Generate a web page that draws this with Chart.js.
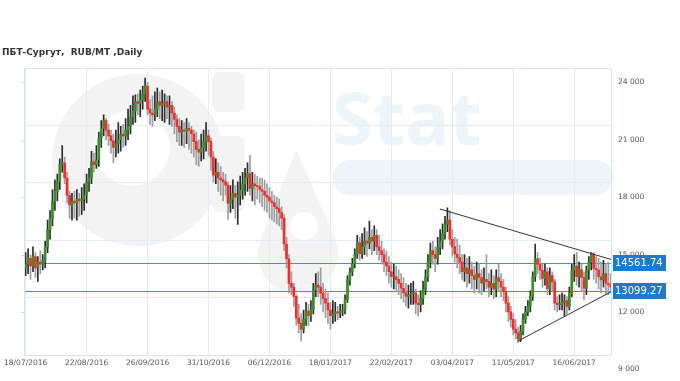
<!DOCTYPE html>
<html>
<head>
<meta charset="utf-8">
<script src="https://cdn.jsdelivr.net/npm/chart.js@4.4.1/dist/chart.umd.min.js"></script>
<style>
  html, body { margin: 0; padding: 0; background: #fff; }
  #wrap { position: relative; width: 680px; height: 381px; }
</style>
</head>
<body>
<div id="wrap"><canvas id="chart"></canvas></div>
<script>
// daily candles, one every trading day; a date label every 25th candle
const tickLabels = ['18/07/2016', '22/08/2016', '26/09/2016', '31/10/2016', '06/12/2016',
                    '18/01/2017', '22/02/2017', '03/04/2017', '11/05/2017', '16/06/2017'];
const labelEvery = 25;

const open = [
  14300,14500,14800,14400,14900,14300,14600,14500,14700,15400,
  16300,16900,17800,18300,18800,19700,19800,19000,18100,17600,
  17800,17700,17900,17800,17900,18100,18800,19000,19850,19700,
  19950,21100,21600,22000,21500,21200,20950,20600,20800,21000,
  21300,21200,21500,21700,22200,22500,23000,22900,23100,23400,
  23800,22600,22400,22300,22600,23000,22800,22900,23000,22700,
  22800,22400,22060,21700,21400,21500,21450,21600,21500,21300,
  20900,20500,20350,20600,20900,21200,20900,20100,19150,19300,
  19000,18900,18800,18630,17690,17900,18200,18000,18100,18350,
  18700,19000,19230,18460,18700,18600,18550,18400,18300,18100,
  18000,17800,17700,17500,17400,17200,16900,15550,14780,13490,
  13300,12810,11690,11400,11100,11610,12040,11800,12120,13160,
  13410,13300,12980,12700,12460,12100,11800,11900,12000,11950,
  12050,12100,12640,13670,14100,14520,15030,15630,15050,15400,
  15700,15600,15900,15700,16000,15400,15200,15000,14600,14400,
  14100,13840,13840,13700,13490,13240,13000,12810,12900,12950,
  13000,12460,12380,12700,13160,13840,14610,15210,15000,14800,
  15380,15700,16100,16580,16800,15800,15400,15030,14850,14600,
  14100,14300,14000,14200,13900,13700,14000,13800,13500,13700,
  13600,13300,13500,13200,13800,13600,13300,13060,12460,12000,
  11610,11100,10900,10580,11000,11610,12000,12290,12810,13840,
  14780,14500,14180,13750,14100,13200,13900,13570,12460,12380,
  12400,12500,12600,12290,12980,14180,14400,13840,14200,13800,
  13240,14180,14600,15030,14270,14200,13840,13670,14000,13500,
  13410
];
const high = [
  15100,15300,15000,15400,15100,14900,15200,15000,15700,16800,
  17300,18400,18900,19200,20000,20700,20100,19300,18300,18200,
  18300,18400,18200,18500,18700,19200,19500,20400,20300,20700,
  21400,22000,22300,22100,21800,21500,21300,21500,21900,21700,
  21800,22100,22600,22800,23300,23350,23400,23600,23800,24220,
  24000,23100,23300,23500,23700,23500,23600,23400,23300,23300,
  23000,22700,22300,22100,22000,21900,22100,21900,21700,21500,
  21400,21000,21300,21500,21900,21500,21100,20400,20000,19800,
  19600,19300,19200,18800,18600,18900,18600,18800,19100,19300,
  19500,19800,20180,19300,19200,19100,19000,19000,18900,18700,
  18500,18300,18100,18000,17900,17500,17100,15900,15000,14100,
  13500,12900,12400,11900,12100,12500,12400,12600,13500,14000,
  14100,14300,13500,13200,13000,12500,12600,12500,12300,12400,
  12400,12900,13900,14300,14800,15300,16000,15900,16100,16400,
  16200,16750,16300,16500,16300,16000,15700,15300,15200,14900,
  14600,14500,14400,14200,14000,13800,13500,13400,13500,13600,
  13200,12900,13100,13600,14200,15000,15600,15700,15400,15900,
  16300,16600,17000,17440,17300,16300,15900,15800,15500,15000,
  15000,14800,14900,14600,14400,14600,14500,14200,14300,15000,
  14000,14200,13900,14200,14500,14000,13700,13300,12800,12300,
  11900,11600,11200,11300,11900,12300,12600,13100,14100,15550,
  15100,14800,14500,14500,14300,14300,14100,13700,12800,12900,
  13000,12900,12800,13300,14500,15000,15120,14600,14500,14100,
  14400,14900,15100,15100,14900,14800,14600,14700,14500,14600,
  14000
];
const low = [
  13900,14000,13700,14100,13800,13600,14000,14200,14300,15100,
  15800,16500,17300,17800,18400,19300,18700,17700,16900,16800,
  16900,16800,17000,17100,17300,17700,18300,18700,19300,19500,
  19600,20600,21200,21000,20700,20300,19800,20100,20300,20400,
  20600,20700,21000,21300,21800,21900,22300,22200,22600,23000,
  22300,21800,21700,22000,22200,22100,22000,21900,22100,21800,
  21700,21300,20900,20700,20700,20600,20800,20500,20300,20100,
  19700,19600,19900,20000,20400,20200,19400,18800,18700,18300,
  18100,17800,18100,16830,17200,17400,16900,16580,17600,17900,
  18100,18300,18100,17800,17600,17900,17700,17500,17300,17200,
  16900,16800,16700,16600,16500,16300,15200,14300,13000,12900,
  12300,11300,10900,10490,10900,11300,11300,11500,11900,12800,
  12800,12400,12000,11700,11400,11100,11400,11500,11600,11700,
  11800,11900,12500,13400,13900,14300,14800,14700,14800,15000,
  14900,15300,15000,15200,15000,14700,14500,14100,13900,13500,
  13300,13200,13100,12900,12700,12500,12300,12200,12400,12400,
  11900,11780,12000,12400,12900,13600,14300,14500,14100,14500,
  15000,15300,15800,16200,15500,14900,14600,14300,14000,13700,
  13600,13300,13500,13200,13000,13200,13000,12900,13100,13200,
  12800,12900,12700,12800,13100,12800,12600,12000,11500,11200,
  10800,10600,10410,10450,10800,11400,11800,12000,12600,13600,
  14000,13700,13300,13400,12900,12900,13100,12100,12000,12100,
  12100,11780,11900,12100,12800,13600,13400,13300,13100,12640,
  12900,13700,14200,13700,13500,13200,13000,13300,12900,12900,
  13000
];
const close = [
  14500,14800,14400,14900,14300,14600,14500,14700,15400,16300,
  16900,17800,18300,18800,19700,19800,19000,18100,17600,17800,
  17700,17900,17800,17900,18100,18800,19000,19850,19700,19950,
  21100,21600,22000,21500,21200,20950,20600,20800,21000,21300,
  21200,21500,21700,22200,22500,23000,22900,23100,23400,23800,
  22600,22400,22300,22600,23000,22800,22900,23000,22700,22800,
  22400,22060,21700,21400,21500,21450,21600,21500,21300,20900,
  20500,20350,20600,20900,21200,20900,20100,19150,19300,19000,
  18900,18800,18630,17690,17900,18200,18000,18100,18350,18700,
  19000,19230,18460,18700,18600,18550,18400,18300,18100,18000,
  17800,17700,17500,17400,17200,16900,15550,14780,13490,13300,
  12810,11690,11400,11100,11610,12040,11800,12120,13160,13410,
  13300,12980,12700,12460,12100,11800,11900,12000,11950,12050,
  12100,12640,13670,14100,14520,15030,15630,15050,15400,15700,
  15600,15900,15700,16000,15400,15200,15000,14600,14400,14100,
  13840,13840,13700,13490,13240,13000,12810,12900,12950,13000,
  12460,12380,12700,13160,13840,14610,15210,15000,14800,15380,
  15700,16100,16580,16800,15800,15400,15030,14850,14600,14100,
  14300,14000,14200,13900,13700,14000,13800,13500,13700,13600,
  13300,13500,13200,13800,13600,13300,13060,12460,12000,11610,
  11100,10900,10580,11000,11610,12000,12290,12810,13840,14780,
  14500,14180,13750,14100,13200,13900,13570,12460,12380,12400,
  12500,12600,12290,12980,14180,14400,13840,14200,13800,13240,
  14180,14600,15030,14270,14200,13840,13670,14000,13500,13410,
  13300
];

const yTickValues = [24000, 21000, 18000, 15000, 12000, 9000];
const priceLevels = [14561.74, 13099.27];
// trend lines as [candle index, price]
const trendUpper = [[169.9, 17380], [240.5, 14730]];
const trendLower = [[201.7, 10460], [240.5, 13080]];

const yMin = 9750, yMax = 24750, gridStep = 3000;

const upColor = '#3b8d2b', downColor = '#f52b2b';
const labels = open.map((_, i) => i % labelEvery === 0 ? tickLabels[i / labelEvery] : '');
const isUp = open.map((o, i) => close[i] >= o);

function fmtThousands(v) {
  return String(v).replace(/\B(?=(\d{3})+(?!\d))/g, ' ');
}

function drawWatermark(ctx) {
  ctx.save();
  // "Oil" part, light grey
  ctx.fillStyle = '#f3f3f3';
  ctx.beginPath();
  ctx.arc(138, 160, 86, 0, Math.PI * 2);
  ctx.arc(132, 148, 38, 0, Math.PI * 2, true);
  ctx.fill();
  ctx.beginPath();
  ctx.roundRect(212, 72, 33, 40, 8);
  ctx.roundRect(212, 136, 33, 76, 8);
  ctx.fill();
  ctx.beginPath();
  ctx.moveTo(296, 150);
  ctx.lineTo(336, 240);
  ctx.arc(298, 254, 40, -0.35, Math.PI + 0.35);
  ctx.closePath();
  ctx.fill();
  ctx.fillStyle = '#fff';
  ctx.beginPath();
  ctx.arc(304, 226, 14, 0, Math.PI * 2);
  ctx.fill();
  // "Stat" part, pale blue
  ctx.fillStyle = '#edf4fa';
  ctx.font = 'bold 74px "Open Sans"';
  ctx.textBaseline = 'alphabetic';
  ctx.fillText('Stat', 332, 145);
  ctx.beginPath();
  ctx.roundRect(333, 160, 280, 35, 17);
  ctx.fill();
  ctx.restore();
}

const decor = {
  id: 'decor',
  beforeDraw(chart) {
    const ctx = chart.ctx;
    ctx.save();
    ctx.fillStyle = '#fff';
    ctx.fillRect(0, 0, chart.width, chart.height);
    ctx.restore();
    drawWatermark(ctx);
  },
  beforeDatasetsDraw(chart) {
    const { ctx, chartArea: a, scales: { y } } = chart;
    ctx.save();
    ctx.strokeStyle = '#4d8bd6';
    ctx.lineWidth = 1;
    priceLevels.forEach(v => {
      const py = Math.round(y.getPixelForValue(v)) + 0.5;
      ctx.beginPath();
      ctx.moveTo(a.left, py);
      ctx.lineTo(a.right, py);
      ctx.stroke();
    });
    ctx.restore();
  },
  afterDatasetsDraw(chart) {
    const { ctx, scales: { x, y } } = chart;
    ctx.save();
    ctx.strokeStyle = '#333';
    ctx.lineWidth = 1;
    [trendUpper, trendLower].forEach(line => {
      ctx.beginPath();
      ctx.moveTo(x.getPixelForValue(line[0][0]), y.getPixelForValue(line[0][1]));
      ctx.lineTo(x.getPixelForValue(line[1][0]), y.getPixelForValue(line[1][1]));
      ctx.stroke();
    });
    ctx.restore();
  },
  afterDraw(chart) {
    const { ctx, chartArea: a, scales: { y } } = chart;
    ctx.save();
    // frame
    ctx.strokeStyle = '#d6e4f1';
    ctx.lineWidth = 1;
    ctx.strokeRect(Math.round(a.left) + 0.5, Math.round(a.top) + 0.5,
                   Math.round(a.right - a.left) - 1, Math.round(a.bottom - a.top));
    // y labels and small left ticks
    ctx.font = '7.5px "DejaVu Sans"';
    ctx.fillStyle = '#555';
    ctx.textBaseline = 'middle';
    ctx.textAlign = 'left';
    yTickValues.forEach(v => {
      const py = y.getPixelForValue(v);
      ctx.fillText(fmtThousands(v), a.right + 6, py);
      if (py < a.bottom) {
        ctx.strokeStyle = '#c9d9ea';
        ctx.beginPath();
        ctx.moveTo(a.left - 3, Math.round(py) + 0.5);
        ctx.lineTo(a.left, Math.round(py) + 0.5);
        ctx.stroke();
      }
    });
    // price level boxes
    ctx.font = '10px "DejaVu Sans"';
    priceLevels.forEach(v => {
      const py = Math.round(y.getPixelForValue(v));
      ctx.fillStyle = '#2179cf';
      ctx.fillRect(a.right + 1, py - 8, 53, 16);
      ctx.fillStyle = '#fff';
      ctx.textAlign = 'left';
      ctx.fillText(v.toFixed(2), a.right + 3, py + 0.5);
    });
    // title
    ctx.font = 'bold 9px "DejaVu Sans"';
    ctx.fillStyle = '#333';
    ctx.textBaseline = 'alphabetic';
    ctx.fillText('ПБТ-Сургут,  RUB/MT ,Daily', 2, 55);
    ctx.restore();
  }
};

new Chart(document.getElementById('chart'), {
  type: 'bar',
  data: {
    labels: labels,
    datasets: [
      {
        label: 'body',
        data: open.map((o, i) => [o, close[i]]),
        backgroundColor: isUp.map(u => u ? upColor : downColor),
        barThickness: 2,
        minBarLength: 1,
        grouped: false
      },
      {
        label: 'wick',
        data: low.map((l, i) => [l, high[i]]),
        backgroundColor: isUp.map(u => u ? '#2a2a2a' : '#9c9c9c'),
        barThickness: 1,
        grouped: false
      }
    ]
  },
  options: {
    responsive: true,
    maintainAspectRatio: false,
    animation: false,
    layout: { padding: { left: 20, right: 68, top: 68, bottom: 9 } },
    plugins: { legend: { display: false }, tooltip: { enabled: false } },
    scales: {
      x: {
        grid: { color: '#e4edf6', offset: false, drawTicks: false },
        border: { display: false },
        ticks: {
          autoSkip: false,
          maxRotation: 0,
          padding: 4,
          color: '#555',
          font: { family: 'DejaVu Sans', size: 7.5 },
          callback: (v, i) => labels[i] || null
        }
      },
      y: {
        position: 'right',
        min: yMin,
        max: yMax,
        afterBuildTicks: axis => {
          const t = [];
          for (let v = yMin; v <= yMax; v += gridStep) t.push({ value: v });
          axis.ticks = t;
        },
        grid: { color: '#e4edf6', drawTicks: false },
        border: { display: false },
        ticks: { display: false }
      }
    }
  },
  plugins: [decor]
});
</script>
</body>
</html>
